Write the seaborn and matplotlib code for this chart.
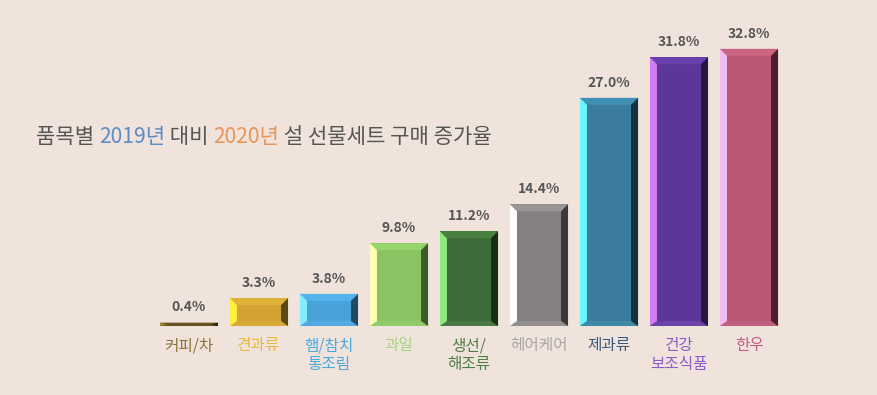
import numpy as np
import pandas as pd
import seaborn as sns
import matplotlib.pyplot as plt
from matplotlib.patches import Polygon

# data
categories = ["커피/차", "견과류", "햄/참치\n통조림", "과일", "생선/\n해조류",
              "헤어케어", "제과류", "건강\n보조식품", "한우"]
values = [0.4, 3.3, 3.8, 9.8, 11.2, 14.4, 27.0, 31.8, 32.8]

# bar face colours and bevel shades
front_colors = ["#5E4C1C", "#D2A232", "#4AA2DA", "#8AC462", "#3E6B3A",
                "#858080", "#3A7B9E", "#5C3698", "#B85874"]
top_colors = ["#6E5A22", "#E0B23A", "#56B2EA", "#96D46C", "#48803F",
              "#9A9595", "#4090B4", "#6A40AE", "#CC6482"]
left_colors = ["#A08A30", "#FFF040", "#84EEFF", "#FFFFB4", "#8EEA7E",
               "#FFFFFF", "#6CF6FF", "#D07CF4", "#F2BCF2"]
right_colors = ["#2E2408", "#5A4814", "#1E4A68", "#3E5A2A", "#182E14",
                "#3A3838", "#14323F", "#24163E", "#4E1E2E"]
bottom_colors = ["#665220", "#D8AA38", "#52AAE0", "#92CC6A", "#4A7A44",
                 "#959090", "#4088A8", "#6A42A8", "#C06080"]
label_colors = ["#8A7338", "#E8B93C", "#4AAAE0", "#A4D47E", "#4E7E46",
                "#A8A6A6", "#3E5A7A", "#8A5CC8", "#C8587A"]

title_parts = ["품목별 ", "2019년", " 대비 ", "2020년", " 설 선물세트 구매 증가율"]
title_colors = ["#555555", "#5B8CC8", "#555555", "#E8955A", "#555555"]

bg = "#F0E3DC"

sns.set_theme(style="white")
plt.rcParams['font.family'] = ['Noto Sans CJK KR', 'DejaVu Sans']

df = pd.DataFrame({"category": categories, "rate": values})

fig = plt.figure(figsize=(8.77, 3.95), dpi=100)
fig.patch.set_facecolor(bg)
ax = fig.add_axes([0, 0, 1, 1])
ax.set_facecolor(bg)

sns.barplot(data=df, x="category", y="rate", hue="category",
            palette=front_colors, saturation=1, width=0.83,
            legend=False, ax=ax, linewidth=0)

# pixel -> data mapping: bar i centred at 189 + 70*i px, 8.45 px per %
ax.set_xlim(-189 / 70, (877 - 189) / 70)
ax.set_ylim(-(395 - 326) / 8.45, 326 / 8.45)
ax.axis("off")

# bevel sizes in data units
bx = 7 / 70
bt_full = 7 / 8.45
bb_full = 5 / 8.45

bars = sorted(ax.patches, key=lambda p: p.get_x())
for i, p in enumerate(bars):
    x0 = p.get_x()
    x1 = x0 + p.get_width()
    h = p.get_height()
    bt, bb = bt_full, bb_full
    if h < bt + bb:
        s = h / (bt + bb)
        bt, bb = bt * s, bb * s
    polys = [
        ([(x0, h), (x1, h), (x1 - bx, h - bt), (x0 + bx, h - bt)], top_colors[i]),
        ([(x0, 0), (x1, 0), (x1 - bx, bb), (x0 + bx, bb)], bottom_colors[i]),
        ([(x0, 0), (x0, h), (x0 + bx, h - bt), (x0 + bx, bb)], left_colors[i]),
        ([(x1, 0), (x1, h), (x1 - bx, h - bt), (x1 - bx, bb)], right_colors[i]),
    ]
    for pts, c in polys:
        ax.add_patch(Polygon(pts, closed=True, facecolor=c, edgecolor="none"))

    ax.annotate(f"{values[i]:.1f}%", (i, h), xytext=(0, 11),
                textcoords="offset points", ha="center", va="center",
                fontsize=10, fontweight="bold", color="#555555")
    ax.text(i, -1.35, categories[i], ha="center", va="top",
            fontsize=11.3, color=label_colors[i], linespacing=1.1)

# multi-coloured title, drawn piece by piece
fig.canvas.draw()
renderer = fig.canvas.get_renderer()
x_px = 36
y_frac = 1 - 137 / 395
for part, c in zip(title_parts, title_colors):
    t = fig.text(x_px / 877, y_frac, part, color=c, fontsize=15.2,
                 ha="left", va="center")
    ext = t.get_window_extent(renderer=renderer)
    x_px += ext.width

fig.savefig("out.png", dpi=100, facecolor=bg)
